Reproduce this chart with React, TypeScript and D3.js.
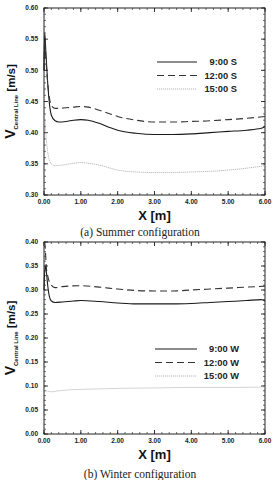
import React from "react";
import * as d3 from "d3";

// ---- Data ----
const xTicks = [0, 1, 2, 3, 4, 5, 6];

// Summer configuration
const sX9 = [0, 0.02, 0.05, 0.1, 0.15, 0.2, 0.3, 0.4, 0.6, 0.8, 1.0, 1.2, 1.5, 1.8, 2.0, 2.5, 3.0, 3.5, 4.0, 4.5, 5.0, 5.5, 5.9, 6.0];
const sY9 = [0.5, 0.56, 0.53, 0.48, 0.445, 0.428, 0.419, 0.417, 0.418, 0.42, 0.421, 0.42, 0.415, 0.408, 0.404, 0.399, 0.397, 0.397, 0.398, 0.4, 0.402, 0.404, 0.407, 0.41];
const sX12 = [0, 0.02, 0.05, 0.1, 0.15, 0.2, 0.3, 0.4, 0.6, 0.8, 1.0, 1.2, 1.5, 1.8, 2.0, 2.5, 3.0, 3.5, 4.0, 4.5, 5.0, 5.5, 6.0];
const sY12 = [0.5, 0.55, 0.52, 0.48, 0.455, 0.443, 0.439, 0.439, 0.44, 0.441, 0.442, 0.441, 0.436, 0.43, 0.426, 0.42, 0.417, 0.417, 0.418, 0.419, 0.421, 0.423, 0.426];
const sX15 = [0.03, 0.05, 0.1, 0.15, 0.2, 0.3, 0.5, 0.8, 1.0, 1.2, 1.5, 1.8, 2.0, 2.5, 3.0, 3.5, 4.0, 4.5, 5.0, 5.5, 6.0];
const sY15 = [0.42, 0.4, 0.37, 0.355, 0.35, 0.347, 0.348, 0.351, 0.352, 0.351, 0.348, 0.343, 0.34, 0.337, 0.336, 0.336, 0.337, 0.338, 0.34, 0.343, 0.347];

// Winter configuration
const wX9 = [0, 0.03, 0.06, 0.1, 0.15, 0.2, 0.3, 0.5, 0.8, 1.0, 1.5, 2.0, 2.5, 3.0, 3.5, 4.0, 4.5, 5.0, 5.5, 5.9, 6.0];
const wY9 = [0.3, 0.35, 0.34, 0.31, 0.285, 0.277, 0.274, 0.275, 0.277, 0.278, 0.276, 0.273, 0.271, 0.271, 0.271, 0.272, 0.274, 0.276, 0.278, 0.28, 0.277];
const wX12 = [0.02, 0.04, 0.06, 0.1, 0.2, 0.3, 0.5, 1.0, 1.5, 2.0, 2.5, 3.0, 3.5, 4.0, 4.5, 5.0, 5.5, 6.0];
const wY12 = [0.4, 0.38, 0.35, 0.33, 0.31, 0.305, 0.307, 0.309, 0.306, 0.302, 0.299, 0.298, 0.298, 0.3, 0.302, 0.304, 0.306, 0.308];
const wX15 = [0, 0.1, 0.2, 0.4, 0.7, 1.0, 1.5, 2.0, 3.0, 4.0, 5.0, 6.0];
const wY15 = [0.093, 0.089, 0.088, 0.09, 0.092, 0.093, 0.094, 0.095, 0.096, 0.097, 0.097, 0.098];

const summerLabels = ["9:00 S", "12:00 S", "15:00 S"];
const winterLabels = ["9:00 W", "12:00 W", "15:00 W"];
const summerYTicks = [0.3, 0.35, 0.4, 0.45, 0.5, 0.55, 0.6];
const winterYTicks = [0, 0.05, 0.1, 0.15, 0.2, 0.25, 0.3, 0.35, 0.4];

const styles = [
  { stroke: "#1a1a1a", width: 1.1, dash: "" },
  { stroke: "#333", width: 1.1, dash: "7,4" },
  { stroke: "#b0b0b0", width: 0.9, dash: "1.2,0.8" },
];

type Series = { xs: number[]; ys: number[] };

function Panel(props: {
  top: number;
  bottom: number;
  yDomain: [number, number];
  yTicks: number[];
  series: Series[];
  labels: string[];
  legendY: number;
  legendX1: number;
  legendX2: number;
  legendTextX: number;
  caption: string;
  captionY: number;
}) {
  const left = 44;
  const right = 265;
  const x = d3.scaleLinear().domain([0, 6]).range([left, right]);
  const y = d3.scaleLinear().domain(props.yDomain).range([props.bottom, props.top]);
  const line = d3
    .line<[number, number]>()
    .x((d) => x(d[0]))
    .y((d) => y(d[1]))
    .curve(d3.curveMonotoneX);

  const xMinor = d3.range(0, 6.0001, 0.2);
  const yMinor = d3.range(props.yDomain[0], props.yDomain[1] + 0.0001, 0.01);
  const fmt = d3.format(".2f");
  const midY = (props.top + props.bottom) / 2;

  return (
    <g>
      {/* frame */}
      <rect x={left} y={props.top} width={right - left} height={props.bottom - props.top} fill="none" stroke="#222" strokeWidth={1} />
      {/* minor ticks */}
      {xMinor.map((v, i) => (
        <g key={"xm" + i} stroke="#333" strokeWidth={0.7}>
          <line x1={x(v)} x2={x(v)} y1={props.bottom} y2={props.bottom - 2} />
          <line x1={x(v)} x2={x(v)} y1={props.top} y2={props.top + 2} />
        </g>
      ))}
      {yMinor.map((v, i) => (
        <g key={"ym" + i} stroke="#333" strokeWidth={0.7}>
          <line x1={left} x2={left + 2} y1={y(v)} y2={y(v)} />
          <line x1={right} x2={right - 2} y1={y(v)} y2={y(v)} />
        </g>
      ))}
      {/* major ticks */}
      {xTicks.map((v) => (
        <g key={"xt" + v}>
          <line x1={x(v)} x2={x(v)} y1={props.bottom} y2={props.bottom - 4} stroke="#222" strokeWidth={0.9} />
          <line x1={x(v)} x2={x(v)} y1={props.top} y2={props.top + 4} stroke="#222" strokeWidth={0.9} />
          <text x={x(v)} y={props.bottom + 9} textAnchor="middle" fontFamily="Liberation Sans, Arial, sans-serif" fontWeight="bold" fontSize={6.5} fill="#222">
            {fmt(v)}
          </text>
        </g>
      ))}
      {props.yTicks.map((v) => (
        <g key={"yt" + v}>
          <line x1={left} x2={left + 4} y1={y(v)} y2={y(v)} stroke="#222" strokeWidth={0.9} />
          <line x1={right} x2={right - 4} y1={y(v)} y2={y(v)} stroke="#222" strokeWidth={0.9} />
          <text x={38} y={y(v) + 2.3} textAnchor="end" fontFamily="Liberation Sans, Arial, sans-serif" fontWeight="bold" fontSize={6.5} fill="#222">
            {fmt(v)}
          </text>
        </g>
      ))}
      {/* series */}
      {props.series.map((s, i) => (
        <path
          key={"s" + i}
          d={line(s.xs.map((xv, j) => [xv, s.ys[j]] as [number, number])) || ""}
          fill="none"
          stroke={styles[i].stroke}
          strokeWidth={styles[i].width}
          strokeDasharray={styles[i].dash}
        />
      ))}
      {/* legend */}
      {props.labels.map((lab, i) => (
        <g key={"lg" + i}>
          <line
            x1={props.legendX1}
            x2={props.legendX2}
            y1={props.legendY + i * 13.5}
            y2={props.legendY + i * 13.5}
            stroke={styles[i].stroke}
            strokeWidth={styles[i].width}
            strokeDasharray={styles[i].dash}
          />
          <text x={props.legendTextX} y={props.legendY + i * 13.5 + 3.3} textAnchor="end" fontFamily="Liberation Sans, Arial, sans-serif" fontWeight="bold" fontSize={9.3} fill="#222">
            {lab}
          </text>
        </g>
      ))}
      {/* axis titles */}
      <text x={(left + right) / 2} y={props.bottom + 25} textAnchor="middle" fontFamily="Liberation Sans, Arial, sans-serif" fontWeight="bold" fontSize={13} fill="#111">
        X [m]
      </text>
      <text transform={`translate(15,${midY}) rotate(-90)`} textAnchor="middle" fontFamily="Liberation Sans, Arial, sans-serif" fontWeight="bold" fill="#111">
        <tspan fontSize={14}>V</tspan>
        <tspan fontSize={6} dy={2.5}>Central Line</tspan>
        <tspan fontSize={11.5} dy={-2.5}> [m/s]</tspan>
      </text>
      <text x={140} y={props.captionY} textAnchor="middle" fontFamily="Liberation Serif, Times New Roman, serif" fontSize={11.5} fill="#222">
        {props.caption}
      </text>
    </g>
  );
}

export default function App() {
  return (
    <svg width={279} height={480} style={{ position: "absolute", left: 0, top: 0, background: "#fff" }}>
      <rect width={279} height={480} fill="#fff" />
      <Panel
        top={8}
        bottom={195}
        yDomain={[0.3, 0.6]}
        yTicks={summerYTicks}
        series={[
          { xs: sX9, ys: sY9 },
          { xs: sX12, ys: sY12 },
          { xs: sX15, ys: sY15 },
        ]}
        labels={summerLabels}
        legendY={62}
        legendX1={157}
        legendX2={197}
        legendTextX={237}
        caption="(a) Summer configuration"
        captionY={236}
      />
      <Panel
        top={242}
        bottom={434}
        yDomain={[0, 0.4]}
        yTicks={winterYTicks}
        series={[
          { xs: wX9, ys: wY9 },
          { xs: wX12, ys: wY12 },
          { xs: wX15, ys: wY15 },
        ]}
        labels={winterLabels}
        legendY={349}
        legendX1={155}
        legendX2={197}
        legendTextX={239}
        caption="(b) Winter configuration"
        captionY={478}
      />
    </svg>
  );
}
